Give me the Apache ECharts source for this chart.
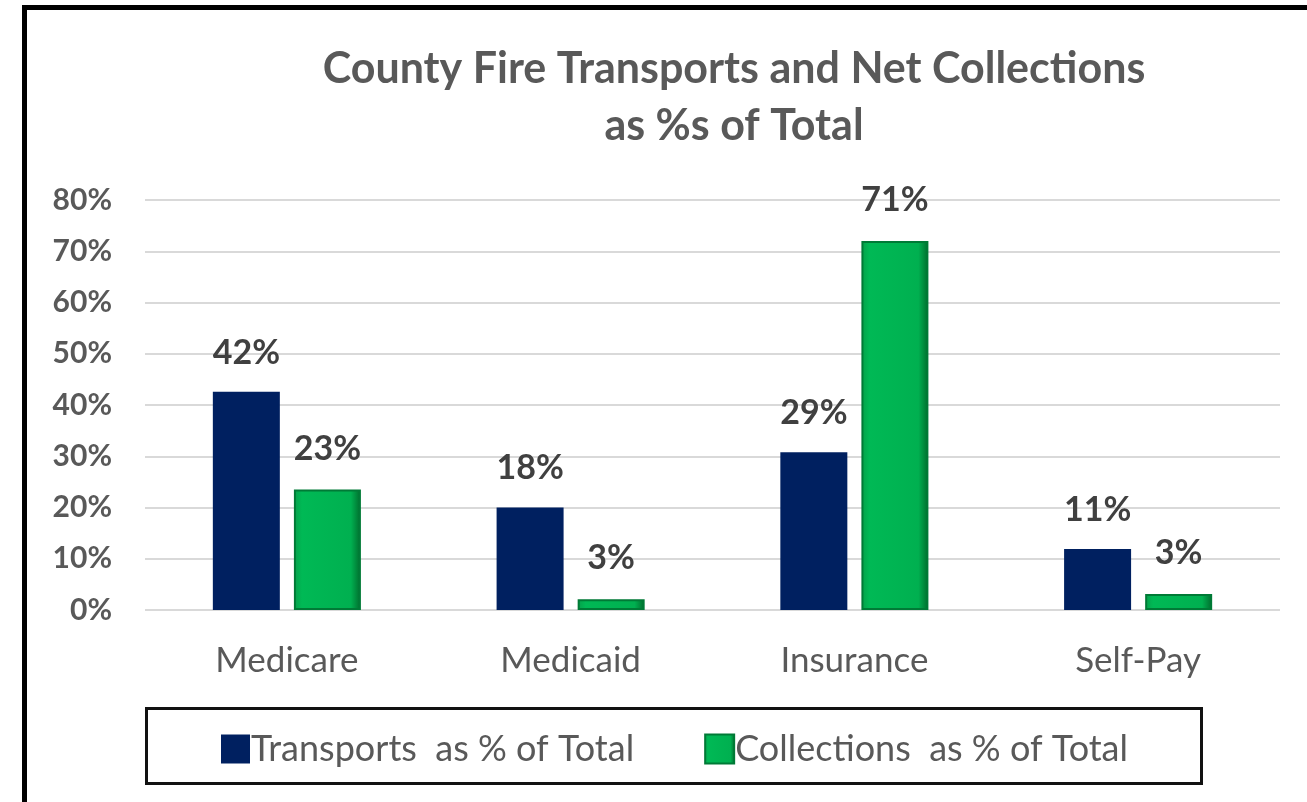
<!DOCTYPE html>
<html>
<head>
<meta charset="utf-8">
<script src="https://cdn.jsdelivr.net/npm/echarts@6/dist/echarts.min.js"></script>
<style>
html,body{margin:0;padding:0;background:#fff;}
#chart{width:1307px;height:802px;}
</style>
</head>
<body>
<div id="chart"></div>
<script>
const categories = ['Medicare', 'Medicaid', 'Insurance', 'Self-Pay'];
const transports = [42.6, 20.0, 30.8, 11.9];
const collections = [23.5, 2.1, 72.0, 3.1];
const transportLabels = ['42%', '18%', '29%', '11%'];
const collectionLabels = ['23%', '3%', '71%', '3%'];
const yTicks = [0, 10, 20, 30, 40, 50, 60, 70, 80];

const FONT = 'Lato, "Open Sans", sans-serif';
const chart = echarts.init(document.getElementById('chart'), null, {renderer: 'canvas'});
chart.setOption({
  animation: false,
  backgroundColor: '#fff',
  textStyle: {fontFamily: FONT},
  title: {
    text: 'County Fire Transports and Net Collections\nas %s of Total',
    left: 729, textAlign: 'center', top: 36,
    textStyle: {fontFamily: FONT, fontSize: 43, fontWeight: 'bold', color: '#595959', lineHeight: 57}
  },
  grid: {left: 145, right: 27, top: 200, bottom: 192, containLabel: false},
  legend: {
    left: 216, top: 726, itemWidth: 29, itemHeight: 29, itemGap: 70,
    icon: 'rect',
    textStyle: {fontFamily: FONT, fontSize: 36, color: '#595959', padding: [0, 0, 0, -4]},
    data: ['Transports  as % of Total', 'Collections  as % of Total']
  },
  xAxis: {
    type: 'category', data: categories,
    axisLine: {show: false}, axisTick: {show: false},
    axisLabel: {fontFamily: FONT, fontSize: 35, color: '#595959', margin: 33}
  },
  yAxis: {
    type: 'value', min: yTicks[0], max: yTicks[yTicks.length - 1], interval: 10,
    axisLine: {show: false}, axisTick: {show: false},
    splitLine: {lineStyle: {color: '#d9d9d9', width: 2}},
    axisLabel: {fontFamily: FONT, fontSize: 30, fontWeight: 'bold', color: '#595959', margin: 33,
      formatter: v => v + '%'}
  },
  series: [
    {
      name: 'Transports  as % of Total', type: 'bar', data: transports,
      barWidth: 67, barGap: '21%',
      itemStyle: {color: '#002060'},
      label: {show: true, position: 'top', distance: 22, fontFamily: FONT, fontSize: 34, fontWeight: 'bold', color: '#404040',
        formatter: p => transportLabels[p.dataIndex]}
    },
    {
      name: 'Collections  as % of Total', type: 'bar', data: collections,
      barWidth: 67,
      itemStyle: {
        color: {type: 'linear', x: 0, y: 0, x2: 1, y2: 0, colorStops: [
          {offset: 0, color: '#06a04a'}, {offset: 0.12, color: '#00b955'}, {offset: 0.85, color: '#00b050'}, {offset: 1, color: '#006b2c'}]},
        borderColor: '#007a36', borderWidth: 2
      },
      label: {show: true, position: 'top', distance: 24, fontFamily: FONT, fontSize: 34, fontWeight: 'bold', color: '#404040',
        formatter: p => collectionLabels[p.dataIndex]}
    }
  ],
  graphic: [
    {type: 'rect', shape: {x: 24.5, y: 7.5, width: 1400, height: 900}, style: {fill: null, stroke: '#000', lineWidth: 5}, z: 100},
    {type: 'rect', shape: {x: 146.5, y: 708.5, width: 1055, height: 75}, style: {fill: null, stroke: '#111', lineWidth: 3}, z: 100}
  ]
});
</script>
</body>
</html>
